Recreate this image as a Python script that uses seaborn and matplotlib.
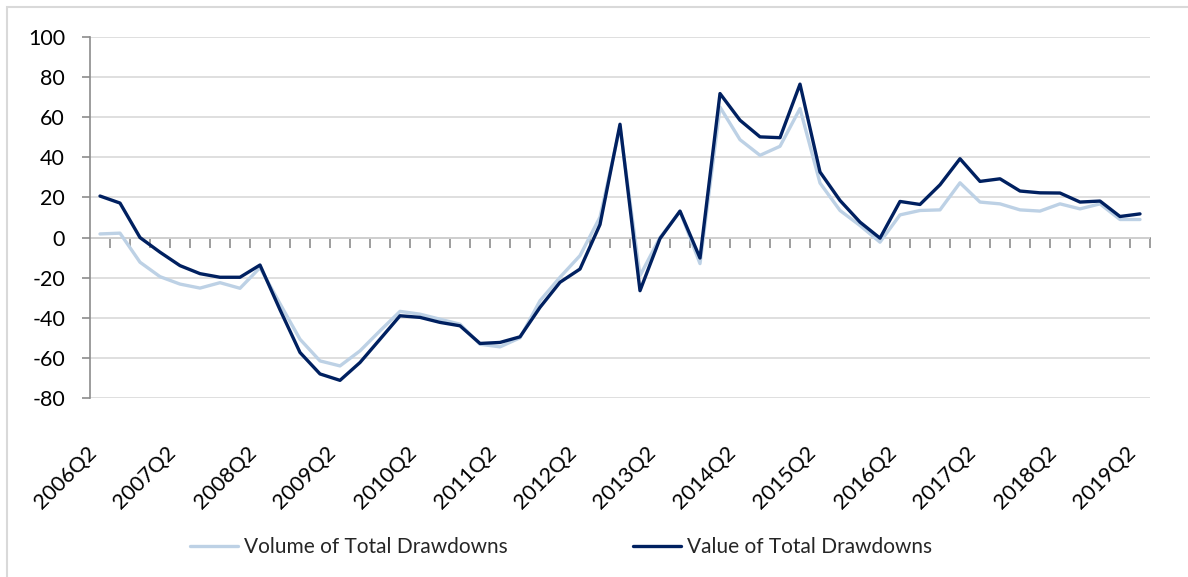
import matplotlib
matplotlib.use('Agg')
import matplotlib.pyplot as plt
import matplotlib.transforms as mtransforms
import seaborn as sns
import pandas as pd
from matplotlib.patches import Rectangle

# quarterly categories 2006Q2 .. 2019Q2
quarters = [f"{y}Q{q}" for y in range(2006, 2020) for q in range(1, 5)][1:54]

volume = [1.8, 2.2, -12.3, -19.5, -23.2, -25.2, -22.5, -25.3, -15, -33,
          -50.7, -61.5, -64, -56.5, -46.5, -36.8, -38.2, -40.7, -43.2, -53.2,
          -54.5, -50, -31.5, -19.8, -9, 10.2, 55, -19, 0, 13,
          -13, 65, 48.8, 41, 45.5, 64.3, 27.2, 13.5, 6, -2.3,
          11.3, 13.5, 13.8, 27.3, 17.7, 16.8, 13.8, 13.2, 16.8, 14.3,
          16.8, 9, 9]
value = [20.7, 17.2, 0, -7.3, -14, -18, -19.8, -19.8, -13.7, -36,
         -57.3, -68, -71.2, -62.3, -50.7, -39, -39.8, -42.3, -44, -52.8,
         -52.3, -49.5, -34.8, -22.3, -15.7, 6.5, 56.5, -26.5, -0.5, 13.2,
         -10.2, 71.8, 58.5, 50.2, 49.8, 76.5, 32.7, 18.5, 7.7, -0.3,
         18, 16.5, 26.3, 39.3, 28, 29.3, 23.2, 22.3, 22.2, 17.7,
         18.2, 10.5, 11.8]

series_names = ["Volume of Total Drawdowns", "Value of Total Drawdowns"]
colors = ["#bdd1e5", "#002060"]

df = pd.concat([
    pd.DataFrame({"idx": range(len(quarters)), "val": volume, "series": series_names[0]}),
    pd.DataFrame({"idx": range(len(quarters)), "val": value, "series": series_names[1]}),
])

sns.set_theme(style="white")
plt.rcParams['font.family'] = ['Lato', 'DejaVu Sans']
plt.rcParams['axes.unicode_minus'] = False

fig = plt.figure(figsize=(11.88, 5.77), dpi=100)
ax = fig.add_axes([90 / 1188, 1 - 398 / 577, 1060 / 1188, 361 / 577])

sns.lineplot(data=df, x="idx", y="val", hue="series", palette=colors,
             linewidth=2.4, ax=ax, legend=False)

ax.set_xlim(-0.5, len(quarters) - 0.5)
ax.set_ylim(-80, 100)
ax.set_yticks(range(-80, 101, 20))
ax.set_xlabel("")
ax.set_ylabel("")
ax.yaxis.grid(True, color="#d9d9d9", linewidth=1.2)
ax.set_axisbelow(True)

for s in ["top", "right", "bottom"]:
    ax.spines[s].set_visible(False)
ax.spines["left"].set_color("#8c8c8c")
ax.spines["left"].set_linewidth(1.2)
ax.tick_params(axis="y", direction="out", length=6, width=1.2, color="#8c8c8c",
               pad=12, labelsize=15.5, labelcolor="black", left=True)

# category labels along the bottom
ax.set_xticks(range(0, len(quarters), 4))
ax.set_xticklabels(quarters[::4], rotation=45, ha="right", rotation_mode="anchor",
                   fontsize=15.5, color="black")
ax.tick_params(axis="x", length=0, pad=32)
shift = mtransforms.ScaledTranslation(-14 / 100, 0, fig.dpi_scale_trans)
for lbl in ax.get_xticklabels():
    lbl.set_transform(lbl.get_transform() + shift)

# zero line with tick marks between categories
zero_pos = (0 - (-80)) / 180
sec = ax.secondary_xaxis(zero_pos)
sec.set_xticks([i + 0.5 for i in range(len(quarters))])
sec.set_xticklabels([])
sec.spines["bottom"].set_color("#8c8c8c")
sec.spines["bottom"].set_linewidth(1.2)
sec.tick_params(axis="x", direction="out", length=7, width=1.2, color="#8c8c8c")

handles = [plt.Line2D([], [], color=c, linewidth=2.4) for c in colors]
fig.legend(handles, series_names, loc="center", bbox_to_anchor=(561 / 1188, 1 - 547 / 577),
           ncol=2, frameon=False, fontsize=15, handlelength=2.3, handletextpad=0.3,
           columnspacing=6)

fig.patches.append(Rectangle((7 / 1188, -0.1), 1.2, 1.1 - 7 / 577,
                             transform=fig.transFigure, fill=False,
                             edgecolor="#d9d9d9", linewidth=1.5))

fig.savefig("out.png", dpi=100)
